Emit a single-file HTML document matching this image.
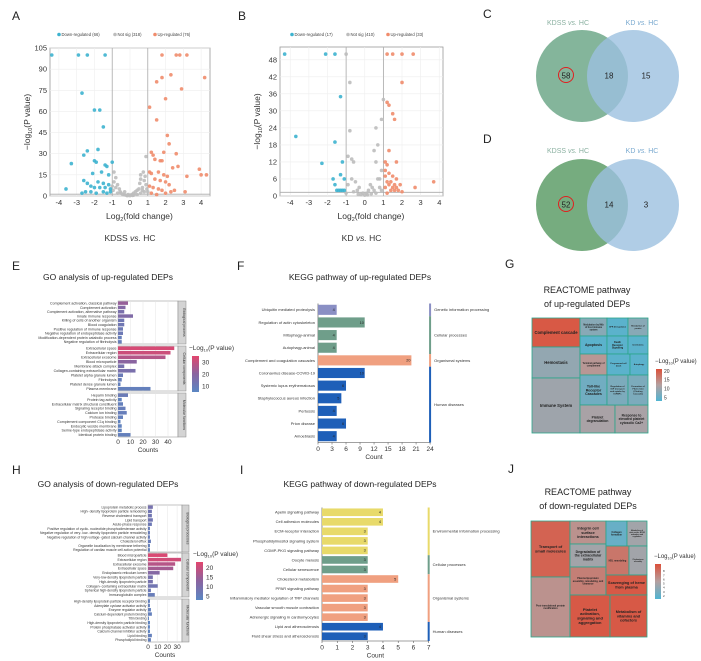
<!DOCTYPE html>
<html><head><meta charset="utf-8"><style>
html,body{margin:0;padding:0;background:#fff;width:701px;height:661px;overflow:hidden}
svg{display:block;font-family:"Liberation Sans",sans-serif}
</style></head><body>
<svg id="fig" width="701" height="661" viewBox="0 0 701 661" xmlns="http://www.w3.org/2000/svg"></svg>
<script>
// ---------- DATA ----------
const aDownX=[-4.4,-2.9,-2.4,-1.4,-2.7,-2.0,-1.7,-1.5,-2.4,-2.6,-1.8,-3.3,-2.0,-1.9,-1.4,-1.3,-1.0,-2.1,-1.6,-1.2,-2.6,-2.4,-1.8,-1.5,-1.2,-3.6,-2.2,-2.0,-1.7,-1.4,-1.1,-2.5,-2.2,-1.9,-1.5,-1.3,-2.7,-1.1];
const aDownY=[100,100,100,100,73,61,61,49,32,29,33,23,25,24,22,21,24,16,17,15,11,9,10,9,8,5,7,6,6,6,5,3,3,2,3,2,2,3];
const aUpX=[1.8,2.6,2.8,3.2,2.3,1.8,1.5,4.2,2.9,2.0,1.1,1.5,2.1,2.2,1.2,1.9,2.6,1.3,1.4,1.7,1.8,2.4,2.7,3.9,4.3,4.0,3.2,1.1,1.2,1.6,1.9,2.1,1.4,1.7,2.0,2.2,1.1,1.3,1.6,1.8,2.3,3.1,1.2,2.0,1.5,2.5];
const aUpY=[100,100,100,100,86,84,81,84,76,69,63,54,43,37,31,31,30,29,26,25,25,20,21,19,15,15,14,17,16,17,15,14,12,11,10,8,7,6,5,4,3,3,2,2,1,4];
const aNsX=[-0.9,-0.8,-0.7,0.9,0.6,0.6,0.8,0.9,0.4,-0.3,0.2,-0.5,0.1,-0.1,0.5,0.7,-0.6,-0.9,-0.8,0.3,-0.4,0.8,-0.2,0.0,0.6,0.95,-0.95,0.4,-0.7,0.7,-0.3,0.2,0.85,0.75,0.55,-0.55,0.15,-0.15,1.0,-1.0];
const aNsY=[17,13,8,28,15,12,11,8,4,3,2,2,1,1,5,6,5,10,6,3,1,3,0.5,0.3,2,5,4,1,2,4,0.8,0.6,14,17,9,3,0.4,0.3,3,7];
const bDownX=[-4.3,-2.1,-1.6,-1.3,-3.7,-1.6,-2.3,-1.2,-1.3,-1.7,-1.1,-1.6,-1.5,-1.3,-1.2,-1.1,-1.4];
const bDownY=[50,50,50,35,21,19,11.5,12,7.5,6,6,4,2,2,2,2,2];
const bUpX=[1.2,1.5,2.0,2.6,2.0,1.2,1.3,1.5,1.6,1.3,1.1,1.2,1.7,1.3,1.1,1.5,1.2,1.6,1.5,1.7,3.7,2.7,2.0,1.4,1.8,1.1,1.3,1.2,1.9,1.6,1.4,1.7,1.1];
const bUpY=[50,50,50,50,40,33,32,29,27,16,12,11,12,8,7,7,5,4,3,3,5,3,1.5,2,2,3,4,1,4,2,5,6,9];
const bNsX=[-1.0,-0.8,1.0,0.9,0.6,-0.8,0.7,0.5,-0.9,-0.7,0.6,-0.6,0.9,0.8,0.7,-0.5,-0.3,0.2,0.1,-0.1,0.4,-0.4,0.3,-0.2,0.5,-0.7,0.8,-0.9,0.0,0.6,-0.6,0.35,-0.35,0.9,-1.0,0.15];
const bNsY=[50,40,34,27,24,23,18,16,14,13,12,12,9,6,6,5,3,2,1,1,3,2,4,0.5,2,6,3,4,0.3,1,1.5,0.8,0.6,2,1,0.4];

const eBPLabels=["Complement activation, classical pathway","Complement activation","Complement activation, alternative pathway","Innate immune response","Killing of cells of another organism","Blood coagulation","Positive regulation of immune response","Negative regulation of endopeptidase activity","Modification-dependent protein catabolic process","Negative regulation of fibrinolysis"];
const eBPCounts=[8,6,5,12,5,5,4,4,3,3];
const eBPLogP=[22,18,15,17,12,12,11,11,9,9];
const eCCLabels=["Extracellular space","Extracellular region","Extracellular exosome","Blood microparticle","Membrane attack complex","Collagen-containing extracellular matrix","Platelet alpha granule lumen","Fibrinolysis","Platelet dense granule lumen","Plasma membrane"];
const eCCCounts=[45,42,38,15,5,14,4,3,2,26];
const eCCLogP=[33,31,27,20,14,15,10,9,8,8];
const eMFLabels=["Heparin binding","Protein tag activity","Extracellular matrix structural constituent","Signaling receptor binding","Calcium ion binding","Protease binding","Complement component C1q binding","Endocytic vesicle membrane","Serine-type endopeptidase activity","Identical protein binding"];
const eMFCounts=[8,3,4,6,7,4,2,3,3,10];
const eMFLogP=[10,7,8,9,9,8,7,7,7,8];

const hBPLabels=["Lipoprotein metabolic process","High- density lipoprotein particle remodeling","Reverse cholesterol transport","Lipid transport","Acute-phase response","Positive regulation of cyclic- nucleotide phosphodiesterase activity","Negative regulation of very- low- density lipoprotein particle remodeling","Negative regulation of high voltage- gated calcium channel activity","Cholesterol efflux","Organelle localization by membrane tethering","Regulation of cardiac muscle cell action potential"];
const hBPCounts=[5,4,4,5,4,2,2,2,3,2,2];
const hBPLogP=[9,8,8,8,7,6,6,6,6,5,5];
const hCCLabels=["Blood microparticle","Extracellular region","Extracellular exosome","Extracellular space","Endoplasmic reticulum lumen","Very-low-density lipoprotein particle","High-density lipoprotein particle","Collagen- containing extracellular matrix","Spherical high-density lipoprotein particle","Immunoglobulin complex"];
const hCCCounts=[20,34,28,26,12,5,5,10,3,7];
const hCCLogP=[22,21,18,16,12,9,9,8,7,6];
const hMFLabels=["High-density lipoprotein particle receptor binding","Adenylate cyclase activator activity","Enzyme regulator activity","Calcium-dependent protein binding","Titin binding","High-density lipoprotein particle binding","Protein phosphatase activator activity","Calcium channel inhibitor activity","Lipid binding","Phospholipid binding"];
const hMFCounts=[2,2,3,4,1,2,2,2,4,3];
const hMFLogP=[5,5,5,5,4,4,4,4,5,5];

const fLabels=["Ubiquitin mediated proteolysis","Regulation of actin cytoskeleton","Mitophagy-animal","Autophagy-animal","Complement and coagulation cascades","Coronavirus disease-COVID-19","Systemic lupus erythematosus","Staphylococcus aureus infection","Pertussis","Prion disease","Amoebiasis"];
const fCounts=[4,10,4,4,20,10,6,5,4,6,4];
const fGroups=[0,1,1,1,2,3,3,3,3,3,3];
const fGroupNames=["Genetic information processing","Cellular processes","Organismal systems","Human diseases"];
const fTicks=[0,3,6,9,12,15,18,21,24];

const iLabels=["Apelin signaling pathway","Cell adhesion molecules","ECM-receptor interaction","Phosphatidylinositol signaling system","CGMP-PKG signaling pathway","Oocyte meiosis","Cellular senescence","Cholesterol metabolism","PPAR signaling pathway","Inflammatory mediator regulation of TRP channels","Vascular smooth muscle contraction","Adrenergic signaling in cardiomyocytes","Lipid and atherosclerosis","Fluid shear stress and atherosclerosis"];
const iCounts=[4,4,3,3,3,3,3,5,3,3,3,3,4,3];
const iGroups=[0,0,0,0,0,1,1,2,2,2,2,2,3,3];
const iGroupNames=["Environmental information processing","Cellular processes","Organismal systems","Human diseases"];
const iTicks=[0,1,2,3,4,5,6,7];

// ---------- HELPERS ----------
const NS="http://www.w3.org/2000/svg";
const svg=document.getElementById('fig');
function el(tag,a,p){const e=document.createElementNS(NS,tag);for(const k in a)e.setAttribute(k,a[k]);(p||svg).appendChild(e);return e;}
function tx(s,x,y,size,anchor,p,fill){const e=el('text',{x:x,y:y,'font-size':size,'text-anchor':anchor||'start',fill:fill||'#222'},p);e.textContent=s;return e;}
function grp(name){const g=el('g',{});return g;}

// panel letters
[["A",12,20],["B",238,20],["C",483,18],["D",483,143],["E",12,270],["F",237,270],["G",505,268],["H",12,474],["I",240,474],["J",508,473]].forEach(function(d){
  const t=tx(d[0],d[1],d[2],12,'start');
  
  
});

// ---------- VOLCANO ----------
function volcano(cfg){
  const g=grp(cfg.name);
  const sx=v=>cfg.x0+(v-cfg.xmin)*(cfg.x1-cfg.x0)/(cfg.xmax-cfg.xmin);
  const sy=v=>cfg.y1-(v-cfg.ymin)*(cfg.y1-cfg.y0)/(cfg.ymax-cfg.ymin);
  const bg=el('rect',{x:cfg.x0,y:cfg.y0,width:cfg.x1-cfg.x0,height:cfg.y1-cfg.y0,fill:'#fff',stroke:'#999','stroke-width':0.8},g);
  
  
  cfg.yt.forEach(function(v){
    const l=el('line',{x1:cfg.x0,x2:cfg.x1,y1:sy(v),y2:sy(v),stroke:'#eee','stroke-width':0.6},g);
    
    
    const t=tx(String(v),cfg.x0-3,sy(v)+2.5,7.5,'end',g,'#333');
    
    
  });
  cfg.xt.forEach(function(v){
    const l=el('line',{x1:sx(v),x2:sx(v),y1:cfg.y0,y2:cfg.y1,stroke:'#eee','stroke-width':0.6},g);
    
    
    const t=tx(String(v),sx(v),cfg.y1+9,7.5,'middle',g,'#333');
    
    
  });
  [-1,1].forEach(function(v){
    const l=el('line',{x1:sx(v),x2:sx(v),y1:cfg.y0,y2:cfg.y1,stroke:'#aaa','stroke-width':0.8},g);
    
    
  });
  const hl=el('line',{x1:cfg.x0,x2:cfg.x1,y1:sy(1.3),y2:sy(1.3),stroke:'#aaa','stroke-width':0.8},g);
  
  
  function pts(xs,ys,col,nm){
    for(let i=0;i<xs.length;i++){
      const c=el('circle',{cx:sx(xs[i]),cy:sy(ys[i]),r:1.8,fill:col,'fill-opacity':0.9},g);
      
      
    }
  }
  pts(cfg.nsX,cfg.nsY,'#bdbdbd','point-not-sig');
  pts(cfg.dX,cfg.dY,'#3db3cf','point-down');
  pts(cfg.uX,cfg.uY,'#f08c6c','point-up');
  // legend
  let lx=cfg.legX;
  cfg.leg.forEach(function(d){
    const c=el('circle',{cx:lx,cy:34.5,r:1.8,fill:d[1]},g);
    
    
    const t=tx(d[0],lx+2.5,36,4.2,'start',g,'#444');
    
    
    lx+=d[2];
  });
  const xt=tx('Log',(cfg.x0+cfg.x1)/2-24,cfg.y1+23,8.5,'start',g,'#333');
  xt.innerHTML='Log<tspan font-size="5.5" dy="2">2</tspan><tspan dy="-2">(fold change)</tspan>';
  
  
  const yt=el('text',{x:0,y:0,'font-size':8.5,'text-anchor':'middle',fill:'#333',transform:'translate('+(cfg.x0-20)+','+((cfg.y0+cfg.y1)/2)+') rotate(-90)'},g);
  yt.innerHTML='−log<tspan font-size="5.5" dy="2">10</tspan><tspan dy="-2">(P value)</tspan>';
  
  
  const st=tx('',(cfg.x0+cfg.x1)/2,cfg.y1+45,8.5,'middle',g,'#333');
  st.innerHTML=cfg.sub;
  
  
}
volcano({name:'volcano-a',x0:50,x1:210,y0:48,y1:196,xmin:-4.5,xmax:4.5,ymin:0,ymax:105,xt:[-4,-3,-2,-1,0,1,2,3,4],yt:[0,15,30,45,60,75,90,105],
  dX:aDownX,dY:aDownY,uX:aUpX,uY:aUpY,nsX:aNsX,nsY:aNsY,legX:59,leg:[['Down-regulated (66)','#3db3cf',56],['Not sig (318)','#bdbdbd',40],['Up-regulated (76)','#f08c6c',0]],
  sub:'KDSS <tspan font-style="italic">vs.</tspan> HC'});
volcano({name:'volcano-b',x0:280,x1:443,y0:47,y1:196,xmin:-4.55,xmax:4.2,ymin:0,ymax:52.5,xt:[-4,-3,-2,-1,0,1,2,3,4],yt:[0,6,12,18,24,30,36,42,48],
  dX:bDownX,dY:bDownY,uX:bUpX,uY:bUpY,nsX:bNsX,nsY:bNsY,legX:292,leg:[['Down-regulated (17)','#3db3cf',56],['Not sig (410)','#bdbdbd',40],['Up-regulated (33)','#f08c6c',0]],
  sub:'KD <tspan font-style="italic">vs.</tspan> HC'});

// ---------- VENN ----------
function venn(name,cy,ly,nums,leftCol){
  const g=grp(name);
  const c1=el('circle',{cx:582,cy:cy,r:46,fill:leftCol,'fill-opacity':0.85},g);
  
  
  const c2=el('circle',{cx:633,cy:cy,r:46,fill:'#9cc0e0','fill-opacity':0.8},g);
  
  
  const l1=tx('',568,ly,7,'middle',g,'#8ab0a0');l1.innerHTML='KDSS <tspan font-style="italic">vs.</tspan> HC';
  
  
  const l2=tx('',642,ly,7,'middle',g,'#7aaad0');l2.innerHTML='KD <tspan font-style="italic">vs.</tspan> HC';
  
  
  const rc=el('circle',{cx:566,cy:cy-1,r:7.5,fill:'none',stroke:'#e02020','stroke-width':1},g);
  
  
  [[566,nums[0]],[609,nums[1]],[646,nums[2]]].forEach(function(d){
    const t=tx(String(d[1]),d[0],cy+2.5,8,'middle',g,'#222');
    
    
  });
}
venn('venn-c',76,25,[58,18,15],'#6fa88a');
venn('venn-d',205,153,[52,14,3],'#5e9e68');

// ---------- GO CHARTS ----------
function goColor(v,lo,hi){
  let t=Math.max(0,Math.min(1,(v-lo)/(hi-lo)));
  const a=[90,135,195],b=[138,100,160],c=[226,70,110];
  let r,gg,bb;
  if(t<0.5){const u=t*2;r=a[0]+(b[0]-a[0])*u;gg=a[1]+(b[1]-a[1])*u;bb=a[2]+(b[2]-a[2])*u;}
  else{const u=(t-0.5)*2;r=b[0]+(c[0]-b[0])*u;gg=b[1]+(c[1]-b[1])*u;bb=b[2]+(c[2]-b[2])*u;}
  return 'rgb('+Math.round(r)+','+Math.round(gg)+','+Math.round(bb)+')';
}
function goChart(cfg){
  const g=grp(cfg.name);
  const sx=v=>cfg.x0+v*cfg.k;
  cfg.panels.forEach(function(p){
    const bg=el('rect',{x:cfg.x0,y:p.y0,width:cfg.x1-cfg.x0,height:p.y1-p.y0,fill:'#fff',stroke:'#888','stroke-width':0.5},g);
    
    
    cfg.ticks.forEach(function(v){
      const l=el('line',{x1:sx(v),x2:sx(v),y1:p.y0,y2:p.y1,stroke:'#e4e4e4','stroke-width':0.5},g);
      
      
    });
    const n=p.labels.length,rh=(p.y1-p.y0)/n;
    for(let i=0;i<n;i++){
      const cy=p.y0+rh*(i+0.5);
      const r=el('rect',{x:cfg.x0,y:cy-rh*0.4,width:p.counts[i]*cfg.k,height:rh*0.8,fill:goColor(p.logp[i],cfg.lo,cfg.hi)},g);
      
      
      const t=tx(p.labels[i],cfg.x0-1.5,cy+1.3,cfg.fs,'end',g,'#333');
      
      
    }
    const s=el('rect',{x:cfg.x1,y:p.y0,width:cfg.sw,height:p.y1-p.y0,fill:'#d4d4d4',stroke:'#888','stroke-width':0.5},g);
    
    
    const st=el('text',{x:0,y:0,'font-size':3.5,'text-anchor':'middle',fill:'#333',transform:'translate('+(cfg.x1+cfg.sw/2+1.2)+','+((p.y0+p.y1)/2)+') rotate(90)'},g);
    st.textContent=p.strip;
    
    
  });
  const yb=cfg.panels[cfg.panels.length-1].y1;
  cfg.ticks.forEach(function(v){
    const t=tx(String(v),sx(v),yb+7,6.5,'middle',g,'#333');
    
    
  });
  const xt=tx('Counts',(cfg.x0+cfg.x1)/2,yb+15,6.5,'middle',g,'#333');
  
  
  const ti=tx(cfg.title,cfg.tx,cfg.ty,8.5,'middle',g,'#222');
  
  
  // legend
  const lt=tx('',cfg.lx,cfg.ly,6.5,'start',g,'#333');
  lt.innerHTML='−Log<tspan font-size="4" dy="1.5">10</tspan><tspan dy="-1.5">(P value)</tspan>';
  
  
  const gid=cfg.name+'-grad';
  const defs=el('defs',{},g);
  const lg=el('linearGradient',{id:gid,x1:0,y1:1,x2:0,y2:0},defs);
  el('stop',{offset:'0',  'stop-color':goColor(cfg.lo,cfg.lo,cfg.hi)},lg);
  el('stop',{offset:'0.5','stop-color':goColor((cfg.lo+cfg.hi)/2,cfg.lo,cfg.hi)},lg);
  el('stop',{offset:'1',  'stop-color':goColor(cfg.hi,cfg.lo,cfg.hi)},lg);
  const gb=el('rect',{x:cfg.lx+3,y:cfg.ly+6,width:7,height:cfg.lh,fill:'url(#'+gid+')'},g);
  
  
  cfg.legTicks.forEach(function(v){
    const y=cfg.ly+6+cfg.lh-(v-cfg.lo)/(cfg.hi-cfg.lo)*cfg.lh;
    const t=tx(String(v),cfg.lx+13,y+2.5,6.5,'start',g,'#333');
    
    
  });
}
goChart({name:'go-up',x0:118,x1:178,sw:8,k:1.25,fs:3.6,lo:5,hi:35,ticks:[0,10,20,30,40],
  panels:[{y0:301,y1:344,labels:eBPLabels,counts:eBPCounts,logp:eBPLogP,strip:'Biological process'},
          {y0:346,y1:391,labels:eCCLabels,counts:eCCCounts,logp:eCCLogP,strip:'Cellular components'},
          {y0:393,y1:437,labels:eMFLabels,counts:eMFCounts,logp:eMFLogP,strip:'Molecular functions'}],
  title:'GO analysis of up-regulated DEPs',tx:108,ty:280,lx:189,ly:350,lh:36,legTicks:[10,20,30]});
goChart({name:'go-down',x0:148,x1:182,sw:7,k:0.97,fs:3.4,lo:3,hi:23,ticks:[0,10,20,30],
  panels:[{y0:505,y1:552,labels:hBPLabels,counts:hBPCounts,logp:hBPLogP,strip:'Biological processes'},
          {y0:553,y1:597,labels:hCCLabels,counts:hCCCounts,logp:hCCLogP,strip:'Cellular components'},
          {y0:599,y1:642,labels:hMFLabels,counts:hMFCounts,logp:hMFLogP,strip:'Molecular functions'}],
  title:'GO analysis of down-regulated DEPs',tx:108,ty:487,lx:193,ly:556,lh:38,legTicks:[5,10,15,20]});

// ---------- KEGG ----------
function kegg(cfg){
  const g=grp(cfg.name);
  const sx=v=>cfg.x0+v*cfg.k;
  const n=cfg.labels.length;
  const ax=el('line',{x1:cfg.x0,x2:cfg.x0,y1:cfg.y0,y2:cfg.y1,stroke:'#444','stroke-width':0.6},g);
  
  
  const bx=el('line',{x1:cfg.x0,x2:sx(cfg.ticks[cfg.ticks.length-1]),y1:cfg.y1,y2:cfg.y1,stroke:'#444','stroke-width':0.6},g);
  
  
  const rh=(cfg.y1-cfg.y0)/n;
  for(let i=0;i<n;i++){
    const cy=cfg.y0+rh*(i+0.5);
    const col=cfg.cols[cfg.groups[i]];
    const r=el('rect',{x:cfg.x0,y:cy-rh*0.4,width:cfg.counts[i]*cfg.k,height:rh*0.8,fill:col},g);
    
    
    const v=tx(String(cfg.counts[i]),sx(cfg.counts[i])-3,cy+1.3,3.8,'middle',g,'#222');
    
    
    const t=tx(cfg.labels[i],cfg.x0-3,cy+1.4,4,'end',g,'#333');
    
    
  }
  const xr=sx(cfg.ticks[cfg.ticks.length-1]);
  cfg.groupNames.forEach(function(nm,gi){
    let a=-1,b=-1;
    for(let i=0;i<n;i++){if(cfg.groups[i]===gi){if(a<0)a=i;b=i;}}
    const y0=cfg.y0+rh*a,y1=cfg.y0+rh*(b+1);
    const l=el('rect',{x:xr-1,y:y0,width:2,height:y1-y0,fill:cfg.cols[gi]},g);
    
    
    const t=tx(nm,xr+4,(y0+y1)/2+1.4,4,'start',g,'#333');
    
    
  });
  cfg.ticks.forEach(function(v){
    const tk=el('line',{x1:sx(v),x2:sx(v),y1:cfg.y1,y2:cfg.y1+2,stroke:'#444','stroke-width':0.5},g);
    
    
    const t=tx(String(v),sx(v),cfg.y1+8.5,6.5,'middle',g,'#333');
    
    
  });
  const xt=tx('Count',(cfg.x0+xr)/2,cfg.y1+16.5,6.5,'middle',g,'#333');
  
  
  const ti=tx(cfg.title,cfg.tx,cfg.ty,8.5,'middle',g,'#222');
  
  
}
kegg({name:'kegg-up',x0:318,k:4.67,y0:303.5,y1:442.5,labels:fLabels,counts:fCounts,groups:fGroups,groupNames:fGroupNames,
  cols:['#8a8fc4','#6f9e8a','#f0a080','#1e5fb8'],ticks:fTicks,title:'KEGG pathway of up-regulated DEPs',tx:360,ty:280});
kegg({name:'kegg-down',x0:322,k:15.24,y0:507.5,y1:641,labels:iLabels,counts:iCounts,groups:iGroups,groupNames:iGroupNames,
  cols:['#e8da6a','#6f9e8a','#f0a080','#1e5fb8'],ticks:iTicks,title:'KEGG pathway of down-regulated DEPs',tx:360,ty:487});

// ---------- TREEMAPS ----------
const gNames=["Complement cascade","Hemostasis","Immune System","Modulation by Mtb of host immune system","Apoptosis","Terminal pathway of complement","Toll-like Receptor Cascades","Platelet degranulation","Response to elevated platelet cytosolic Ca2+","GPR Deregulation","Death Receptor Signaling","Programmed cell death","Regulation of IGF transport and uptake by IGFBPs","Metabolism of protein","Interleukins","Autophagy","Formation of Fibrin Clot (Clotting Cascade)"];
const gLogP=[20,9,10,8,4,13,6,11,11,4,4,4,7,8,4,4,7];
const jNames=["Transport of small molecules","Post-translational protein modification","Integrin cell surface interactions","Degradation of the extracellular matrix","Plasma lipoprotein assembly, remodeling, and clearance","Platelet activation, signaling and aggregation","Collagen formation","Metabolism of nitric oxide: NOS3 activation and regulation","HDL remodeling","Chylomicron assembly","Scavenging of heme from plasma","Metabolism of vitamins and cofactors"];
const jLogP=[8.5,6,6,4.5,7,9,2,4.5,7.5,4.5,9,9];
function tmColor(v,lo,hi){
  let t=Math.max(0,Math.min(1,(v-lo)/(hi-lo)));
  const a=[80,180,210],b=[180,160,160],c=[220,80,58];
  const s=t<0.5?[a,b,t*2]:[b,c,(t-0.5)*2];
  const f=i=>Math.round(s[0][i]+(s[1][i]-s[0][i])*s[2]);
  return 'rgb('+f(0)+','+f(1)+','+f(2)+')';
}
function treemap(cfg){
  const g=grp(cfg.name);
  cfg.names.forEach(function(nm,i){
    const b=cfg.boxes[i];
    const r=el('rect',{x:b[0],y:b[1],width:b[2]-b[0],height:b[3]-b[1],fill:tmColor(cfg.vals[i],cfg.lo,cfg.hi),stroke:'#2aa58a','stroke-width':0.8},g);
    
    
    const fs=b[4];
    const words=nm.split(' ');const lines=[];let cur='';
    const maxc=Math.max(4,Math.floor((b[2]-b[0]-2)/(fs*0.55)));
    words.forEach(function(w){if((cur+' '+w).trim().length>maxc&&cur){lines.push(cur);cur=w;}else cur=(cur+' '+w).trim();});
    if(cur)lines.push(cur);
    const cy=(b[1]+b[3])/2,lh=fs*1.1;
    const t=el('text',{x:(b[0]+b[2])/2,y:cy-lh*(lines.length-1)/2+fs*0.35,'font-size':fs,'text-anchor':'middle','font-weight':'bold',fill:'#222'},g);
    lines.forEach(function(l,k){const ts=el('tspan',{x:(b[0]+b[2])/2,dy:k?lh:0},t);ts.textContent=l;});
    
    
  });
  cfg.title.forEach(function(s,k){
    const t=tx(s,cfg.tx,cfg.ty+k*14,9,'middle',g,'#222');
    
    
  });
  const lt=tx('',cfg.lx,cfg.ly,6,'start',g,'#333');
  lt.innerHTML='−Log<tspan font-size="3.8" dy="1.5">10</tspan><tspan dy="-1.5">(P value)</tspan>';
  
  
  const gid=cfg.name+'-grad';
  const defs=el('defs',{},g);
  const lg=el('linearGradient',{id:gid,x1:0,y1:1,x2:0,y2:0},defs);
  el('stop',{offset:'0','stop-color':tmColor(cfg.lo,cfg.lo,cfg.hi)},lg);
  el('stop',{offset:'0.5','stop-color':tmColor((cfg.lo+cfg.hi)/2,cfg.lo,cfg.hi)},lg);
  el('stop',{offset:'1','stop-color':tmColor(cfg.hi,cfg.lo,cfg.hi)},lg);
  const gb=el('rect',{x:cfg.lx+1,y:cfg.ly+6,width:6,height:cfg.lh,fill:'url(#'+gid+')'},g);
  
  
  cfg.legTicks.forEach(function(v){
    const y=cfg.ly+6+cfg.lh-(v-cfg.lo)/(cfg.hi-cfg.lo)*cfg.lh;
    const t=tx(String(v),cfg.lx+9,y+2,cfg.ltf,'start',g,'#333');
    
    
  });
}
treemap({name:'reactome-up',names:gNames,vals:gLogP,lo:3,hi:21,
  boxes:[[532,318,580,347,4.2],[532,347,580,378,4.2],[532,378,580,433,4.2],[580,318,607,336,2.3],[580,336,607,354,3.5],[580,354,607,375,2.3],[580,375,607,405,3.6],[580,405,615,433,3.3],[615,405,648,433,3.3],[607,318,628,336,2],[607,336,628,354,2.5],[607,354,630,375,2],[607,375,628,405,2.2],[628,318,648,336,2],[628,336,648,354,2],[630,354,648,375,2],[628,375,648,405,2.2]],
  title:['REACTOME pathway','of up-regulated DEPs'],tx:587,ty:293,lx:655,ly:363,lh:32,legTicks:[5,10,15,20],ltf:5});
treemap({name:'reactome-down',names:jNames,vals:jLogP,lo:1,hi:9.5,
  boxes:[[531,521,570,577,4],[531,577,570,637,2.4],[570,521,606,544,3.8],[570,544,606,567,3.5],[570,567,606,595,2.4],[570,595,610,637,4],[606,521,627,546,2.4],[627,521,647,546,1.8],[606,546,629,575,2.3],[629,546,647,575,1.8],[606,575,647,595,3.8],[610,595,647,637,3.8]],
  title:['REACTOME pathway','of down-regulated DEPs'],tx:588,ty:495,lx:654,ly:558,lh:35,legTicks:[2,3,4,5,6,7,8],ltf:3});
</script>
</body></html>
